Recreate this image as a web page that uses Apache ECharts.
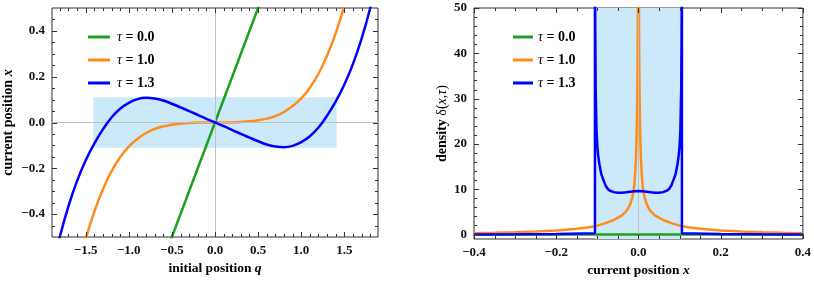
<!DOCTYPE html>
<html>
<head>
<meta charset="utf-8">
<script src="https://cdn.jsdelivr.net/npm/echarts@6/dist/echarts.min.js"></script>
<style>html,body{margin:0;padding:0;background:#fff}#c{width:814px;height:283px}</style>
</head>
<body>
<div id="c"></div>
<script>
// ---------- data ----------
const tauLabels = ['0.0', '1.0', '1.3'];
const colors = ['#1ea01e', '#ff8c1a', '#0000ff'];

// left panel: current position x versus initial position q
const qGrid = [-1.9,-1.8,-1.7,-1.6,-1.5,-1.4,-1.3,-1.2,-1.1,-1.0,-0.9,-0.8,-0.7,-0.6,-0.5,-0.4,-0.3,-0.2,-0.1,0,
               0.1,0.2,0.3,0.4,0.5,0.6,0.7,0.8,0.9,1.0,1.1,1.2,1.3,1.4,1.5,1.6,1.7,1.8,1.9];
const greenQ = [-0.6, 0, 0.6];
const greenX = [-0.6, 0, 0.6];
const orangeX = [-1.28,-1.04,-0.83,-0.66,-0.51,-0.39,-0.292,-0.213,-0.152,-0.105,-0.072,-0.046,-0.028,-0.017,-0.010,-0.005,-0.002,-0.0005,0,0,
                 0,0.0005,0.002,0.005,0.010,0.017,0.028,0.046,0.072,0.105,0.152,0.213,0.292,0.39,0.51,0.66,0.83,1.04,1.28];
const blueX = [-0.66,-0.50,-0.366,-0.256,-0.166,-0.092,-0.03,0.022,0.06,0.086,0.102,0.108,0.105,0.096,0.082,0.066,0.05,0.033,0.016,0,
               -0.016,-0.033,-0.05,-0.066,-0.082,-0.096,-0.105,-0.108,-0.102,-0.086,-0.06,-0.022,0.03,0.092,0.166,0.256,0.366,0.50,0.66];
const leftBoxQ = [-1.41, 1.41];
const leftBoxX = [-0.11, 0.11];

// right panel: density versus current position x
const greenDensX = [-0.4, 0.4];
const greenDensY = [0, 0];
const orangeDensX = [-0.4,-0.35,-0.3,-0.25,-0.2,-0.15,-0.12,-0.1,-0.08,-0.06,-0.05,-0.04,-0.03,-0.025,-0.02,-0.015,-0.012,-0.01,-0.008,-0.006,-0.005,-0.004,-0.003,-0.002,-0.001,-0.0005,0,
                     0.0005,0.001,0.002,0.003,0.004,0.005,0.006,0.008,0.01,0.012,0.015,0.02,0.025,0.03,0.04,0.05,0.06,0.08,0.1,0.12,0.15,0.2,0.25,0.3,0.35,0.4];
const orangeDensY = [0.27,0.37,0.5,0.68,0.9,1.25,1.6,1.95,2.5,3.2,3.7,4.2,5.1,5.8,6.7,8.2,9.6,11,13.5,17,20,24,29,38,55,80,120,
                     80,55,38,29,24,20,17,13.5,11,9.6,8.2,6.7,5.8,5.1,4.2,3.7,3.2,2.5,1.95,1.6,1.25,0.9,0.68,0.5,0.37,0.27];
const blueDensX = [-0.4,-0.3,-0.2,-0.1058,-0.1058,-0.105,-0.104,-0.102,-0.1,-0.098,-0.095,-0.09,-0.085,-0.08,-0.075,-0.07,-0.06,-0.05,-0.04,-0.03,-0.02,-0.01,0,
                   0.01,0.02,0.03,0.04,0.05,0.06,0.07,0.075,0.08,0.085,0.09,0.095,0.098,0.1,0.102,0.104,0.105,0.1058,0.1058,0.2,0.3,0.4];
const blueDensY = [0.02,0.05,0.12,0.25,60,45,32,23,19.5,17.5,15.5,13.2,12,10.8,10.1,9.7,9.35,9.2,9.2,9.3,9.45,9.55,9.6,
                   9.55,9.45,9.3,9.2,9.2,9.35,9.7,10.1,10.8,12,13.2,15.5,17.5,19.5,23,32,45,60,0.25,0.12,0.05,0.02];
const rightBoxX = [-0.1058, 0.1058];
const rightBoxY = [-1, 50];

// axis ranges and ticks
const qRange = [-1.89, 1.89];
const xRange = [-0.5, 0.5];
const qMajor = [-1.5,-1.0,-0.5,0,0.5,1.0,1.5];
const qMinor = [-1.8,-1.7,-1.6,-1.4,-1.3,-1.2,-1.1,-0.9,-0.8,-0.7,-0.6,-0.4,-0.3,-0.2,-0.1,0.1,0.2,0.3,0.4,0.6,0.7,0.8,0.9,1.1,1.2,1.3,1.4,1.6,1.7,1.8];
const xMajor = [-0.4,-0.2,0,0.2,0.4];
const xMinor = [-0.45,-0.35,-0.3,-0.25,-0.15,-0.1,-0.05,0.05,0.1,0.15,0.25,0.3,0.35,0.45];
const cxRange = [-0.4, 0.4];
const cxMajor = [-0.4,-0.2,0,0.2,0.4];
const cxMinor = [-0.35,-0.3,-0.25,-0.15,-0.1,-0.05,0.05,0.1,0.15,0.25,0.3,0.35];
const dRange = [-1, 50];
const dMajor = [0,10,20,30,40,50];
const dMinor = [2,4,6,8,12,14,16,18,22,24,26,28,32,34,36,38,42,44,46,48];

// ---------- chart ----------
const FONT = 'Liberation Serif';
const MAJOR = 5, MINOR = 3;
const fmt1 = v => (v < 0 ? '\u2212' : '') + Math.abs(v).toFixed(1);
const fmt0 = v => String(v);
function nameStyle(size) {
  return {
    color: '#000', fontFamily: FONT, fontWeight: 'bold', fontSize: size,
    rich: {
      i: { fontFamily: FONT, fontStyle: 'italic', fontWeight: 'bold', fontSize: size, color: '#000' },
      n: { fontFamily: FONT, fontWeight: 'normal', fontSize: size, color: '#000' },
      ni: { fontFamily: FONT, fontStyle: 'italic', fontWeight: 'normal', fontSize: size, color: '#000' }
    }
  };
}
function mkAxis(grid, pos, range, labels, fmt, name, gap, nsize) {
  return {
    type: 'value', gridIndex: grid, position: pos, min: range[0], max: range[1],
    axisLine: { show: false, onZero: false },
    axisTick: { show: false },
    axisLabel: { show: true, customValues: labels, formatter: fmt, margin: 7, color: '#111',
      fontFamily: FONT, fontWeight: 'bold', fontSize: 13, showMinLabel: true, showMaxLabel: true },
    splitLine: { show: false },
    name: name, nameLocation: 'middle', nameGap: gap, nameTextStyle: nameStyle(nsize)
  };
}
const zip = (a, b) => a.map((v, i) => [v, b[i]]);
const names = tauLabels.map(t => '\u03c4 = ' + t);

// tick marks on all four frame sides, placed through the axis scales
function tickSeries(gi, dim, major, minor, otherVal) {
  const data = major.map(v => [v, MAJOR]).concat(minor.map(v => [v, MINOR]));
  return {
    type: 'custom', xAxisIndex: gi, yAxisIndex: gi, silent: true, z: 10,
    data: data.map(d => dim === 'x' ? [d[0], otherVal, d[1]] : [otherVal, d[0], d[1]]),
    encode: { x: 0, y: 1 },
    renderItem: (params, api) => {
      const cs = params.coordSys;
      const len = api.value(2);
      const st = { stroke: '#333', lineWidth: 1 };
      if (dim === 'x') {
        const px = Math.round(api.coord([api.value(0), otherVal])[0]) + 0.5;
        return { type: 'group', children: [
          { type: 'line', shape: { x1: px, y1: cs.y + cs.height, x2: px, y2: cs.y + cs.height - len }, style: st },
          { type: 'line', shape: { x1: px, y1: cs.y, x2: px, y2: cs.y + len }, style: st }
        ] };
      }
      const py = Math.round(api.coord([otherVal, api.value(1)])[1]) + 0.5;
      return { type: 'group', children: [
        { type: 'line', shape: { x1: cs.x, y1: py, x2: cs.x + len, y2: py }, style: st },
        { type: 'line', shape: { x1: cs.x + cs.width, y1: py, x2: cs.x + cs.width - len, y2: py }, style: st }
      ] };
    }
  };
}

const option = {
  animation: false,
  grid: [
    { left: 51, top: 8, width: 327, height: 229, show: true, borderColor: '#333', borderWidth: 1, backgroundColor: 'transparent' },
    { left: 474, top: 8, width: 329, height: 231, show: true, borderColor: '#333', borderWidth: 1, backgroundColor: 'transparent' }
  ],
  xAxis: [
    mkAxis(0, 'bottom', qRange, qMajor, fmt1, 'initial position {i|q}', 24, 13.5),
    mkAxis(1, 'bottom', cxRange, cxMajor, fmt1, 'current position {i|x}', 22, 13.5)
  ],
  yAxis: [
    mkAxis(0, 'left', xRange, xMajor, fmt1, 'current position {i|x}', 37, 14),
    mkAxis(1, 'left', dRange, dMajor, fmt0, 'density {n|\u03b4(}{ni|x}{n|,}{ni|\u03c4}{n|)}', 25, 14)
  ],
  legend: [0, 1].map(k => ({
    data: names, orient: 'vertical', left: k === 0 ? 83 : 508, top: 24,
    icon: 'rect', itemWidth: k === 0 ? 22 : 20, itemHeight: 3, itemGap: 7,
    selectedMode: false,
    formatter: n => '{t|\u03c4}{b| = ' + n.split('= ')[1] + '}',
    textStyle: {
      padding: [0, 0, 0, k === 0 ? 2 : 0], lineHeight: 16,
      rich: {
        t: { fontFamily: FONT, fontStyle: 'italic', fontSize: 14, color: '#000' },
        b: { fontFamily: FONT, fontWeight: 'bold', fontSize: 14, color: '#000' }
      }
    }
  })),
  series: [
    { name: names[0], type: 'line', xAxisIndex: 0, yAxisIndex: 0, data: zip(greenQ, greenX),
      showSymbol: false, lineStyle: { color: colors[0], width: 2.5 }, itemStyle: { color: colors[0] }, z: 3,
      markArea: { silent: true, itemStyle: { color: '#cce9fa' },
        data: [[{ coord: [leftBoxQ[0], leftBoxX[0]] }, { coord: [leftBoxQ[1], leftBoxX[1]] }]] },
      markLine: { silent: true, symbol: 'none', label: { show: false },
        lineStyle: { color: '#c0c0c0', width: 1, type: 'solid' }, data: [{ xAxis: 0 }, { yAxis: 0 }] } },
    { name: names[1], type: 'line', xAxisIndex: 0, yAxisIndex: 0, data: zip(qGrid, orangeX),
      showSymbol: false, smooth: 0.4, lineStyle: { color: colors[1], width: 2.5 }, itemStyle: { color: colors[1] }, z: 4 },
    { name: names[2], type: 'line', xAxisIndex: 0, yAxisIndex: 0, data: zip(qGrid, blueX),
      showSymbol: false, smooth: 0.4, lineStyle: { color: colors[2], width: 2.5 }, itemStyle: { color: colors[2] }, z: 5 },

    { name: names[0], type: 'line', xAxisIndex: 1, yAxisIndex: 1, data: zip(greenDensX, greenDensY),
      showSymbol: false, lineStyle: { color: colors[0], width: 2.5 }, itemStyle: { color: colors[0] }, z: 3,
      markArea: { silent: true, itemStyle: { color: '#cce9fa' },
        data: [[{ coord: [rightBoxX[0], rightBoxY[0]] }, { coord: [rightBoxX[1], rightBoxY[1]] }]] },
      markLine: { silent: true, symbol: 'none', label: { show: false },
        lineStyle: { color: '#c0c0c0', width: 1, type: 'solid' }, data: [{ xAxis: 0 }] } },
    { name: names[1], type: 'line', xAxisIndex: 1, yAxisIndex: 1, data: zip(orangeDensX, orangeDensY),
      showSymbol: false, lineStyle: { color: colors[1], width: 2.5 }, itemStyle: { color: colors[1] }, z: 4 },
    { name: names[2], type: 'line', xAxisIndex: 1, yAxisIndex: 1, data: zip(blueDensX, blueDensY),
      showSymbol: false, lineStyle: { color: colors[2], width: 2.5 }, itemStyle: { color: colors[2] }, z: 5 },

    tickSeries(0, 'x', qMajor, qMinor, 0),
    tickSeries(0, 'y', xMajor, xMinor, 0),
    tickSeries(1, 'x', cxMajor, cxMinor, 0),
    tickSeries(1, 'y', dMajor, dMinor, 0)
  ]
};
const chart = echarts.init(document.getElementById('c'), null, { renderer: 'canvas' });
chart.setOption(option);
</script>
</body>
</html>
